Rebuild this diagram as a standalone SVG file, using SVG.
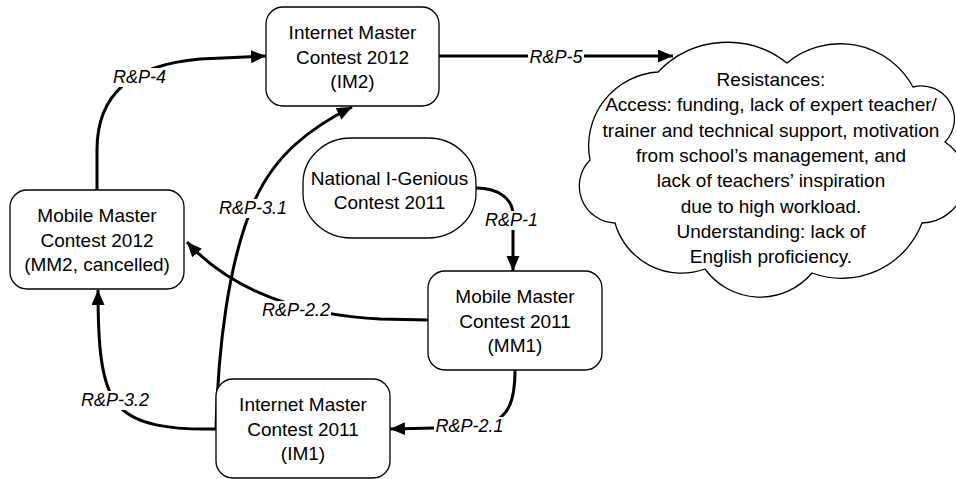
<svg xmlns="http://www.w3.org/2000/svg" width="956" height="479" viewBox="0 0 956 479">
<style>
.box{fill:#fff;stroke:#000;stroke-width:1.3}
.t{font-family:"Liberation Sans",Arial,sans-serif;font-size:19px;fill:#000;text-anchor:middle}
.c{fill:none;stroke:#000;stroke-width:3}
.lb{font-family:"Liberation Sans",Arial,sans-serif;font-size:18px;font-style:italic;fill:#000;text-anchor:middle}
.bg{fill:#fff;stroke:none}
</style>
<defs>
<marker id="ah" markerUnits="userSpaceOnUse" markerWidth="16" markerHeight="14" refX="15" refY="6.5" orient="auto">
<path d="M0,0 L15,6.5 L0,13 Z" fill="#000"/>
</marker>
</defs>
<rect width="956" height="479" fill="#fff"/>
<g id="connectors">
<path class="c" d="M439,56 L673,56" marker-end="url(#ah)"/>
<path class="c" d="M97,190 L97,150 C97,95 130,65 200,59 L266,56" marker-end="url(#ah)"/>
<path class="c" d="M216,428 C218,350 228,260 255,200 C275,155 310,128 352,107" marker-end="url(#ah)"/>
<path class="c" d="M216,429 C170,430 135,425 118,405 C100,385 98,340 98,290" marker-end="url(#ah)"/>
<path class="c" d="M428,320 L380,319 C320,316 240,300 187,242" marker-end="url(#ah)"/>
<path class="c" d="M515,370 C515,400 510,420 480,427 L390,429" marker-end="url(#ah)"/>
<path class="c" d="M476,188 C500,188 513,200 513,215 L513,271" marker-end="url(#ah)"/>
<rect class="bg" x="528" y="47" width="56" height="19"/>
<rect class="bg" x="112" y="68" width="55" height="19"/>
<rect class="bg" x="218" y="199" width="70" height="19"/>
<rect class="bg" x="485" y="211" width="53" height="19"/>
<rect class="bg" x="261" y="301" width="70" height="19"/>
<rect class="bg" x="79" y="391" width="72" height="19"/>
<rect class="bg" x="434" y="417" width="71" height="19"/>
<text class="lb" x="556" y="62.5">R&amp;P-5</text>
<text class="lb" x="139.5" y="82.5">R&amp;P-4</text>
<text class="lb" x="253" y="213.5">R&amp;P-3.1</text>
<text class="lb" x="511.5" y="225.5">R&amp;P-1</text>
<text class="lb" x="296" y="315.5">R&amp;P-2.2</text>
<text class="lb" x="115" y="405.5">R&amp;P-3.2</text>
<text class="lb" x="469.5" y="431.5">R&amp;P-2.1</text>
</g>
<g id="im2">
<rect class="box" x="266" y="7" width="173" height="99" rx="17"/>
<text class="t" x="352.5" y="39">Internet Master</text>
<text class="t" x="352.5" y="63.5">Contest 2012</text>
<text class="t" x="352.5" y="88">(IM2)</text>
</g>
<g id="national">
<rect class="box" x="303" y="138" width="173" height="100" rx="48" ry="45"/>
<text class="t" x="389.5" y="185">National I-Genious</text>
<text class="t" x="389.5" y="208.5">Contest 2011</text>
</g>
<g id="mm2">
<rect class="box" x="10" y="190" width="174" height="99" rx="17"/>
<text class="t" x="97" y="222">Mobile Master</text>
<text class="t" x="97" y="246.5">Contest 2012</text>
<text class="t" x="97" y="271">(MM2, cancelled)</text>
</g>
<g id="mm1">
<rect class="box" x="428" y="271" width="174" height="99" rx="17"/>
<text class="t" x="515" y="303">Mobile Master</text>
<text class="t" x="515" y="327.5">Contest 2011</text>
<text class="t" x="515" y="352">(MM1)</text>
</g>
<g id="im1">
<rect class="box" x="216" y="379" width="174" height="99" rx="17"/>
<text class="t" x="303" y="411">Internet Master</text>
<text class="t" x="303" y="435.5">Contest 2011</text>
<text class="t" x="303" y="460">(IM1)</text>
</g>
<g id="resistances">
<path class="box" d="M658,72 A96,96 0 0 1 787,63 A83,83 0 0 1 913,87 A33,33 0 0 1 945,142 A44,44 0 0 1 922,223 A86,86 0 0 1 812,273 A68,68 0 0 1 705,269 A69,69 0 0 1 615,223 A37,37 0 0 1 590,160 A74,74 0 0 1 658,72 Z"/>
<text class="t" x="771" y="86">Resistances:</text>
<text class="t" x="771" y="111.3">Access: funding, lack of expert teacher/</text>
<text class="t" x="771" y="136.6">trainer and technical support, motivation</text>
<text class="t" x="771" y="161.9">from school’s management, and</text>
<text class="t" x="771" y="187.2">lack of teachers’ inspiration</text>
<text class="t" x="771" y="212.5">due to high workload.</text>
<text class="t" x="771" y="237.8">Understanding: lack of</text>
<text class="t" x="771" y="263">English proficiency.</text>
</g>
</svg>
